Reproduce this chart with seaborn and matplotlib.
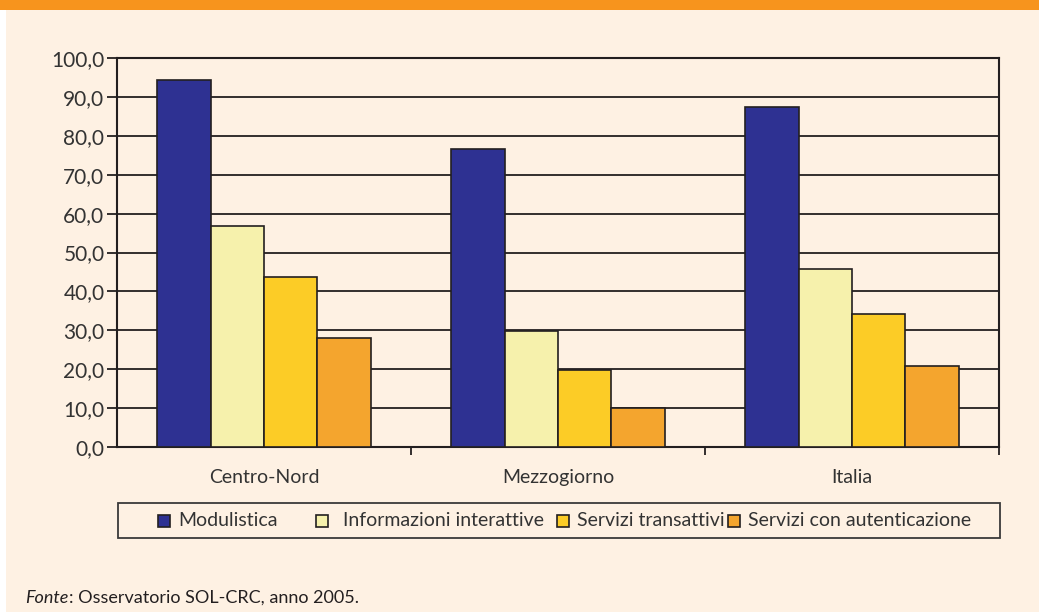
import matplotlib
matplotlib.use("Agg")
import matplotlib.pyplot as plt
import seaborn as sns
import pandas as pd
from matplotlib.patches import Rectangle
from matplotlib.ticker import FuncFormatter, FixedLocator

areas = ["Centro-Nord", "Mezzogiorno", "Italia"]
tipi = ["Modulistica", "Informazioni interattive", "Servizi transattivi",
        "Servizi con autenticazione"]
modulistica = [94.4, 76.7, 87.3]
informazioni = [56.7, 29.8, 45.8]
transattivi = [43.6, 19.9, 34.1]
autenticazione = [28.1, 9.9, 20.8]
colori = ["#2E3192", "#F6F1AC", "#FCCC26", "#F4A52E"]
yticks = [0, 10, 20, 30, 40, 50, 60, 70, 80, 90, 100]

series = [modulistica, informazioni, transattivi, autenticazione]
rows = []
for t, vals in zip(tipi, series):
    for a, v in zip(areas, vals):
        rows.append({"area": a, "tipo": t, "valore": v})
df = pd.DataFrame(rows)

sns.set_theme(style="white")
FONT = ["Lato", "DejaVu Sans"]
plt.rcParams["font.family"] = FONT

W, H = 1039, 612
fig = plt.figure(figsize=(W / 100, H / 100), dpi=100, facecolor="white")
cream = "#FEF1E3"
dark = "#231F20"
txtc = "#333333"
fig.patches.append(Rectangle((6 / W, 0), 1, 1 - 10 / H, transform=fig.transFigure,
                             facecolor=cream, edgecolor="none", zorder=-10))
fig.patches.append(Rectangle((0, 1 - 10 / H), 1, 10 / H, transform=fig.transFigure,
                             facecolor="#F7941D", edgecolor="none", zorder=-10))

ax = fig.add_axes([117 / W, 1 - 447 / H, (999 - 117) / W, (447 - 58) / H])
ax.set_facecolor(cream)

sns.barplot(data=df, x="area", y="valore", hue="tipo", order=areas, hue_order=tipi,
            palette=colori, width=0.725, gap=0, edgecolor=dark, linewidth=1.2,
            saturation=1, legend=False, ax=ax, zorder=3)

ax.set_ylim(0, 100)
ax.set_xlim(-0.5, 2.5)
ax.set_yticks(yticks)
ax.yaxis.set_major_formatter(FuncFormatter(lambda v, p: f"{v:.1f}".replace(".", ",")))
ax.yaxis.grid(True, color=dark, linewidth=1.3, zorder=0)
ax.set_axisbelow(True)
ax.tick_params(axis="y", which="major", left=True, length=7, width=1.3, color=dark,
               labelsize=15, labelcolor=txtc, pad=2)

ax.tick_params(axis="x", which="major", bottom=False, labelsize=14, labelcolor=txtc, pad=10)
ax.xaxis.set_minor_locator(FixedLocator([0.5, 1.5, 2.5]))
ax.tick_params(axis="x", which="minor", bottom=True, length=6, width=1.3, color=dark)
ax.set_xlabel("")
ax.set_ylabel("")
for s in ax.spines.values():
    s.set_visible(True)
    s.set_color(dark)
    s.set_linewidth(1.5)

# legend box
fig.patches.append(Rectangle((118 / W, 1 - 538 / H), (1000 - 118) / W, 35 / H,
                             transform=fig.transFigure, facecolor="none",
                             edgecolor="#3a3a3a", linewidth=1.3, zorder=5))
mk_x = [164, 322, 563, 734]
tx_x = [178, 343, 577, 748]
ly = 521
for c, t, mx, tx in zip(colori, tipi, mk_x, tx_x):
    fig.patches.append(Rectangle(((mx - 6) / W, 1 - (ly + 6) / H), 12 / W, 12 / H,
                                 transform=fig.transFigure, facecolor=c,
                                 edgecolor=dark, linewidth=1.2, zorder=6))
    fig.text(tx / W, 1 - ly / H, t, fontsize=14, color=txtc,
             va="center", ha="left")

t1 = fig.text(25 / W, 1 - 598 / H, "Fonte", fontsize=13, style="italic", color=dark,
              va="center", ha="left")
renderer = fig.canvas.get_renderer()
bb = t1.get_window_extent(renderer=renderer)
fig.text(bb.x1 / W + 1 / W, 1 - 598 / H, ": Osservatorio SOL-CRC, anno 2005.", fontsize=13,
         color=dark, va="center", ha="left")

fig.savefig("out.png", dpi=100, facecolor="white")
